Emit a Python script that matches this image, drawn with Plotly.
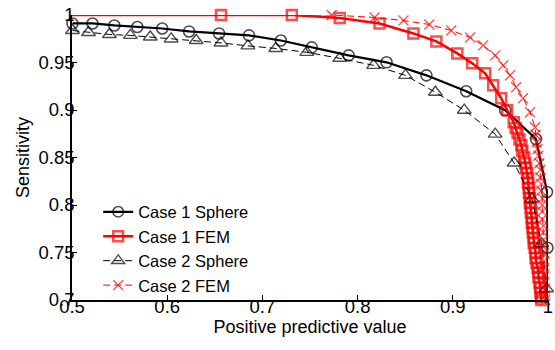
import plotly.graph_objects as go

# ---------------- data ----------------
x_ticks = [0.5, 0.6, 0.7, 0.8, 0.9, 1.0]
x_tick_labels = ["0.5", "0.6", "0.7", "0.8", "0.9", "1"]
y_ticks = [0.7, 0.75, 0.8, 0.85, 0.9, 0.95, 1.0]
y_tick_labels = ["0.7", "0.75", "0.8", "0.85", "0.9", "0.95", "1"]

case1_sphere_ppv = [0.5005, 0.5215, 0.5445, 0.5686, 0.5948, 0.6230, 0.6545, 0.6859,
                    0.7194, 0.7518, 0.7906, 0.8304, 0.8723, 0.9141, 0.9550, 0.9874,
                    0.9990, 0.9995, 0.9995]
case1_sphere_sens = [0.9911, 0.9911, 0.9890, 0.9874, 0.9858, 0.9827, 0.9806, 0.9785,
                     0.9732, 0.9659, 0.9575, 0.9502, 0.9365, 0.9197, 0.8998, 0.8694,
                     0.8137, 0.7550, 0.7000]

case1_fem_ppv = [0.5000, 0.6565, 0.7309, 0.7812, 0.8230, 0.8586, 0.8827, 0.9047,
                 0.9204, 0.9340, 0.9424, 0.9508, 0.9571,
                 0.964, 0.966, 0.968, 0.970, 0.972, 0.973, 0.975, 0.976, 0.977, 0.978,
                 0.979, 0.979, 0.980, 0.980, 0.981, 0.981, 0.982, 0.982, 0.983, 0.983,
                 0.984, 0.984, 0.985, 0.985, 0.986, 0.987, 0.987, 0.988, 0.989, 0.990,
                 0.990, 0.991, 0.992, 0.992, 0.993, 0.993]
case1_fem_sens = [1.0, 1.0, 1.0, 0.9969, 0.9911, 0.9806, 0.9722, 0.9596,
                  0.9491, 0.9386, 0.9260, 0.9124, 0.8998,
                  0.887, 0.881, 0.876, 0.869, 0.863, 0.857, 0.850, 0.844, 0.839, 0.834,
                  0.828, 0.823, 0.818, 0.813, 0.807, 0.802, 0.797, 0.792, 0.786, 0.781,
                  0.776, 0.771, 0.765, 0.760, 0.755, 0.750, 0.744, 0.739, 0.734, 0.729,
                  0.724, 0.718, 0.713, 0.708, 0.703, 0.700]

case2_sphere_ppv = [0.5005, 0.5173, 0.5393, 0.5613, 0.5822, 0.6042, 0.6304, 0.6565,
                    0.6848, 0.7141, 0.7466, 0.7812, 0.8168, 0.8503, 0.8817, 0.9120,
                    0.9445, 0.9644, 0.9832, 0.9935, 0.9985, 0.9990]
case2_sphere_sens = [0.9837, 0.9816, 0.9795, 0.9785, 0.9769, 0.9748, 0.9732, 0.9706,
                     0.9675, 0.9648, 0.9607, 0.9544, 0.9470, 0.9365, 0.9187, 0.8998,
                     0.8746, 0.8442, 0.8064, 0.7592, 0.7119, 0.7000]

case2_fem_ppv = [0.5000, 0.7728, 0.8178, 0.8482, 0.8754, 0.8984, 0.9183, 0.9319,
                 0.9445, 0.9529, 0.9602, 0.9665, 0.9738, 0.9811, 0.9864,
                 0.987, 0.988, 0.989, 0.990, 0.991, 0.992, 0.992, 0.993, 0.993, 0.994,
                 0.994, 0.994, 0.994, 0.995, 0.995, 0.995, 0.995, 0.996, 0.996, 0.996,
                 0.996, 0.996, 0.997, 0.997, 0.997]
case2_fem_sens = [1.0, 1.0, 0.9974, 0.9942, 0.9900, 0.9837, 0.9764, 0.9680,
                  0.9575, 0.9470, 0.9365, 0.9239, 0.9124, 0.8977, 0.8819,
                  0.874, 0.866, 0.859, 0.852, 0.844, 0.837, 0.829, 0.822, 0.815, 0.807,
                  0.800, 0.793, 0.785, 0.778, 0.771, 0.763, 0.756, 0.749, 0.741, 0.734,
                  0.727, 0.719, 0.712, 0.705, 0.700]

# ---------------- styling ----------------
FONT = "Liberation Sans, Arial, sans-serif"
RED = "#ff0000"
BLACK = "#000000"


def sizes(n, size, hide_first=False, hide_last=False):
    s = [size] * n
    if hide_first:
        s[0] = 0
    if hide_last:
        s[-1] = 0
    return s


fig = go.Figure()

fig.add_trace(go.Scatter(
    x=case1_sphere_ppv, y=case1_sphere_sens, name="Case 1 Sphere",
    mode="lines+markers", cliponaxis=False,
    line=dict(color=BLACK, width=2.2),
    marker=dict(symbol="circle-open", color=BLACK,
                size=sizes(len(case1_sphere_ppv), 11, hide_last=True),
                line=dict(width=1.6, color=BLACK)),
))
fig.add_trace(go.Scatter(
    x=case1_fem_ppv, y=case1_fem_sens, name="Case 1 FEM",
    mode="lines+markers", cliponaxis=False,
    line=dict(color=RED, width=2.5),
    marker=dict(symbol="square-open", color=RED,
                size=sizes(len(case1_fem_ppv), 10, hide_first=True),
                line=dict(width=2.5, color=RED)),
))
fig.add_trace(go.Scatter(
    x=case2_sphere_ppv, y=case2_sphere_sens, name="Case 2 Sphere",
    mode="lines+markers", cliponaxis=False,
    line=dict(color=BLACK, width=1, dash="7px,4px"),
    marker=dict(symbol="triangle-up-open", color=BLACK,
                size=sizes(len(case2_sphere_ppv), 12, hide_last=True),
                line=dict(width=1.4, color=BLACK)),
))
fig.add_trace(go.Scatter(
    x=case2_fem_ppv, y=case2_fem_sens, name="Case 2 FEM",
    mode="lines+markers", cliponaxis=False,
    line=dict(color=RED, width=1, dash="7px,4px"),
    marker=dict(symbol="x-thin-open", color=RED,
                size=sizes(len(case2_fem_ppv), 10, hide_first=True),
                line=dict(width=1.3, color=RED)),
))

axis_common = dict(
    showgrid=False, zeroline=False, showline=True, linecolor=BLACK, linewidth=1.5,
    ticks="inside", ticklen=5, tickwidth=1, tickcolor=BLACK, mirror=False,
    automargin=False,
    tickfont=dict(family=FONT, size=18.5, color=BLACK),
)

fig.update_layout(
    width=555, height=350,
    margin=dict(l=72, r=7, t=15, b=50),
    paper_bgcolor="white", plot_bgcolor="white",
    font=dict(family=FONT, size=18, color=BLACK),
    showlegend=True,
    legend=dict(x=0.055, y=0.37, xanchor="left", yanchor="top",
                bgcolor="rgba(0,0,0,0)", borderwidth=0,
                font=dict(family=FONT, size=16.5, color=BLACK),
                tracegroupgap=0),
    xaxis=dict(range=[0.5, 1.0], tickvals=x_ticks, ticktext=x_tick_labels,
               ticklabelstandoff=-11,
               title=dict(text="Positive predictive value",
                          font=dict(family=FONT, size=18, color=BLACK), standoff=4),
               **axis_common),
    yaxis=dict(range=[0.7, 1.0], tickvals=y_ticks, ticktext=y_tick_labels,
               ticklabelstandoff=-8,
               title=dict(text="Sensitivity",
                          font=dict(family=FONT, size=18, color=BLACK), standoff=4),
               **axis_common),
)

# remove the browser's default 8px page margin so the figure sits at the window origin
fig.write_html("out.html",
               config={"displayModeBar": False},
               post_script="document.body.style.margin='0';document.body.style.padding='0';")
